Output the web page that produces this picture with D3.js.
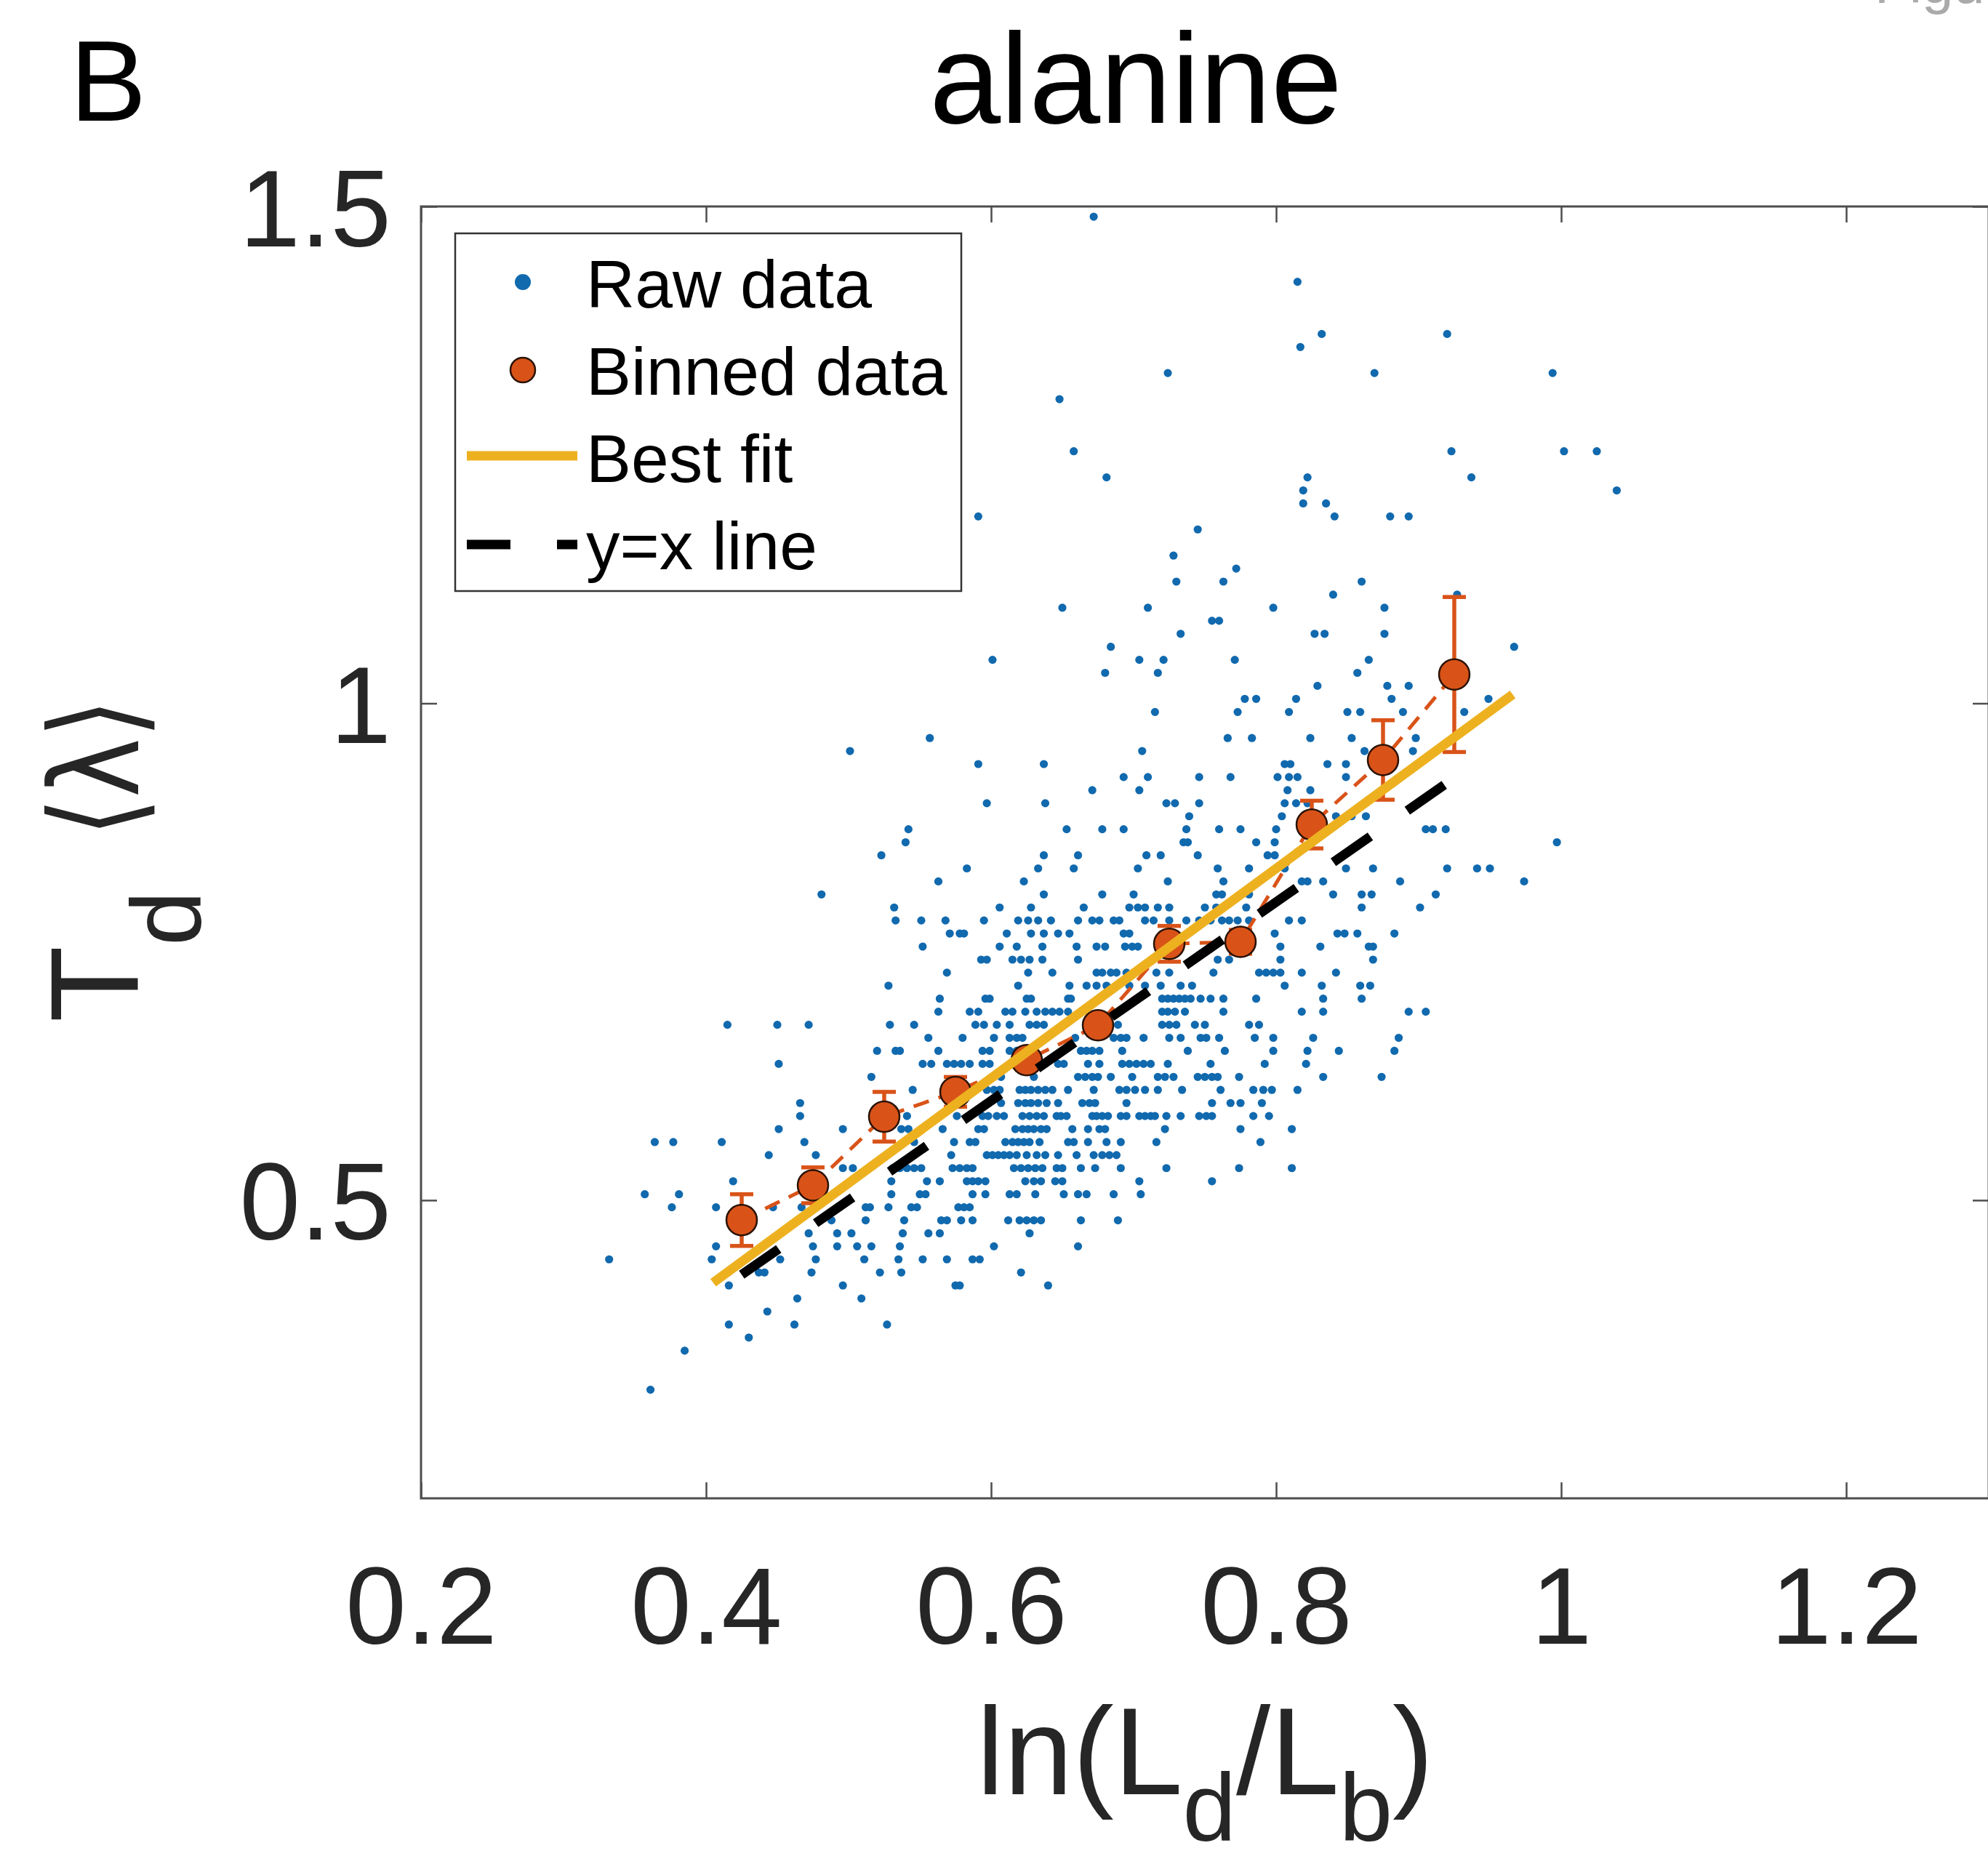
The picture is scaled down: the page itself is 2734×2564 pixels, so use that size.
<!DOCTYPE html>
<html>
<head>
<meta charset="UTF-8">
<title>alanine</title>
<style>
  body { margin: 0; background: #fff; }
  svg { display: block; }
</style>
<script src="https://d3js.org/d3.v7.min.js"></script>
</head>
<body>
<div id="chart"></div>
<script>
// ---- data ----
const xTicks = [0.2, 0.4, 0.6, 0.8, 1, 1.2];
const yTicks = [0.5, 1, 1.5];

// raw data: T_d<lambda> is quantised, so points sit on rows; one y per row, x values in that row
const rowY = [1.4897, 1.4242, 1.3717, 1.3586, 1.3324, 1.3061, 1.2537, 1.2274, 1.2143, 1.2012,
  1.1881, 1.1750, 1.1487, 1.1356, 1.1225, 1.1094, 1.0962, 1.0831, 1.0700, 1.0569,
  1.0438, 1.0307, 1.0176, 1.0045, 0.9913, 0.9651, 0.9520, 0.9389, 0.9258, 0.9126,
  0.8995, 0.8864, 0.8733, 0.8602, 0.8471, 0.8339, 0.8208, 0.8077, 0.7946, 0.7815,
  0.7684, 0.7552, 0.7421, 0.7290, 0.7159, 0.7028, 0.6897, 0.6765, 0.6634, 0.6503,
  0.6372, 0.6241, 0.6110, 0.5978, 0.5847, 0.5716, 0.5585, 0.5454, 0.5323, 0.5191,
  0.5060, 0.4929, 0.4798, 0.4667, 0.4536, 0.4405, 0.4273, 0.4142, 0.4011, 0.3880,
  0.3749, 0.3618, 0.3486, 0.3093];

const rowX = [
  [0.672],
  [0.815],
  [0.832, 0.920],
  [0.817],
  [0.724, 0.869, 0.994],
  [0.648],
  [0.658, 0.923, 1.002, 1.025],
  [0.681, 0.822, 0.937],
  [0.819, 1.039],
  [0.819, 0.835],
  [0.591, 0.841, 0.880, 0.893],
  [0.745],
  [0.728],
  [0.772],
  [0.730, 0.763, 0.860],
  [0.840, 0.927],
  [0.650, 0.710, 0.798, 0.876],
  [0.755, 0.760],
  [0.733, 0.827, 0.834, 0.876],
  [0.684, 0.967],
  [0.601, 0.704, 0.721, 0.771, 0.865],
  [0.680, 0.717, 0.857],
  [0.829, 0.878, 0.893],
  [0.778, 0.786, 0.814, 0.881, 0.949],
  [0.715, 0.773, 0.809, 0.850, 0.859, 0.889, 0.932],
  [0.557, 0.766, 0.783, 0.824, 0.853, 0.898],
  [0.501, 0.706, 0.862, 0.896],
  [0.591, 0.637, 0.806, 0.810, 0.836, 0.849],
  [0.693, 0.710, 0.746, 0.768, 0.801, 0.809, 0.815, 0.849],
  [0.671, 0.704, 0.808, 0.824],
  [0.597, 0.638, 0.723, 0.729, 0.746, 0.806, 0.814, 0.822],
  [0.739, 0.804, 0.842, 0.853, 0.863],
  [0.542, 0.653, 0.678, 0.693, 0.737, 0.760, 0.775, 0.800, 0.905, 0.910, 0.919],
  [0.540, 0.735, 0.738, 0.786, 0.799, 0.997],
  [0.523, 0.637, 0.661, 0.709, 0.719, 0.745, 0.794, 0.799],
  [0.583, 0.633, 0.658, 0.703, 0.759, 0.781, 0.806, 0.849, 0.868, 0.920, 0.941, 0.950],
  [0.563, 0.623, 0.724, 0.763, 0.818, 0.822, 0.833, 0.887, 0.974],
  [0.481, 0.637, 0.678, 0.700, 0.758, 0.762, 0.775, 0.781, 0.840, 0.860, 0.867, 0.912],
  [0.532, 0.606, 0.628, 0.665, 0.697, 0.703, 0.708, 0.717, 0.725, 0.750, 0.758, 0.779, 0.860, 0.901],
  [0.533, 0.551, 0.568, 0.595, 0.619, 0.626, 0.633, 0.642, 0.661, 0.671, 0.676, 0.686, 0.690, 0.708, 0.714, 0.725, 0.737, 0.746, 0.754, 0.762, 0.767, 0.773, 0.781, 0.809, 0.818],
  [0.571, 0.578, 0.581, 0.611, 0.628, 0.637, 0.647, 0.655, 0.693, 0.697, 0.799, 0.843, 0.848, 0.857, 0.883],
  [0.552, 0.606, 0.618, 0.636, 0.660, 0.674, 0.680, 0.694, 0.699, 0.703, 0.803, 0.831, 0.865, 0.868],
  [0.593, 0.597, 0.615, 0.621, 0.627, 0.636, 0.661, 0.759, 0.767, 0.803, 0.868],
  [0.569, 0.626, 0.643, 0.674, 0.678, 0.684, 0.688, 0.695, 0.716, 0.725, 0.756, 0.788, 0.793, 0.798, 0.803, 0.818, 0.842],
  [0.528, 0.619, 0.655, 0.667, 0.674, 0.681, 0.697, 0.708, 0.719, 0.733, 0.741, 0.806, 0.832, 0.859, 0.866],
  [0.564, 0.596, 0.599, 0.625, 0.628, 0.654, 0.656, 0.720, 0.724, 0.728, 0.732, 0.736, 0.740, 0.747, 0.754, 0.763, 0.786, 0.833, 0.860],
  [0.563, 0.585, 0.591, 0.610, 0.615, 0.624, 0.632, 0.638, 0.643, 0.648, 0.654, 0.720, 0.724, 0.729, 0.736, 0.763, 0.818, 0.833, 0.893, 0.905],
  [0.415, 0.450, 0.472, 0.529, 0.546, 0.589, 0.595, 0.604, 0.613, 0.627, 0.632, 0.637, 0.689, 0.720, 0.725, 0.730, 0.743, 0.750, 0.781, 0.788],
  [0.556, 0.580, 0.602, 0.613, 0.618, 0.622, 0.659, 0.686, 0.691, 0.695, 0.707, 0.725, 0.733, 0.747, 0.751, 0.760, 0.785, 0.798, 0.826, 0.886],
  [0.520, 0.533, 0.536, 0.563, 0.594, 0.599, 0.613, 0.618, 0.663, 0.667, 0.671, 0.676, 0.692, 0.738, 0.764, 0.798, 0.822, 0.844, 0.883],
  [0.451, 0.552, 0.558, 0.569, 0.574, 0.579, 0.585, 0.594, 0.599, 0.647, 0.651, 0.668, 0.676, 0.692, 0.697, 0.702, 0.707, 0.712, 0.724, 0.754, 0.792, 0.821],
  [0.516, 0.607, 0.630, 0.661, 0.666, 0.671, 0.675, 0.684, 0.699, 0.717, 0.722, 0.728, 0.745, 0.750, 0.755, 0.759, 0.774, 0.833, 0.874],
  [0.545, 0.597, 0.602, 0.606, 0.620, 0.624, 0.628, 0.633, 0.638, 0.643, 0.654, 0.672, 0.690, 0.695, 0.701, 0.708, 0.717, 0.734, 0.761, 0.784, 0.791, 0.797, 0.815],
  [0.466, 0.607, 0.619, 0.624, 0.628, 0.633, 0.639, 0.647, 0.664, 0.669, 0.673, 0.695, 0.755, 0.768, 0.775, 0.790],
  [0.466, 0.541, 0.576, 0.594, 0.598, 0.604, 0.609, 0.622, 0.627, 0.632, 0.637, 0.646, 0.649, 0.653, 0.671, 0.674, 0.678, 0.682, 0.691, 0.695, 0.704, 0.708, 0.712, 0.715, 0.723, 0.733, 0.746, 0.751, 0.755, 0.784, 0.795],
  [0.451, 0.496, 0.537, 0.542, 0.566, 0.591, 0.595, 0.617, 0.622, 0.626, 0.630, 0.635, 0.639, 0.657, 0.668, 0.676, 0.680, 0.722, 0.775, 0.811],
  [0.364, 0.377, 0.411, 0.469, 0.546, 0.574, 0.585, 0.589, 0.610, 0.615, 0.619, 0.623, 0.627, 0.634, 0.654, 0.658, 0.668, 0.681, 0.691, 0.716, 0.789],
  [0.444, 0.477, 0.572, 0.597, 0.601, 0.605, 0.609, 0.613, 0.618, 0.625, 0.632, 0.638, 0.647, 0.660, 0.672, 0.678, 0.683, 0.688],
  [0.496, 0.503, 0.531, 0.536, 0.541, 0.546, 0.551, 0.573, 0.578, 0.583, 0.587, 0.616, 0.621, 0.626, 0.631, 0.636, 0.646, 0.650, 0.663, 0.673, 0.691, 0.723, 0.774, 0.811],
  [0.419, 0.530, 0.555, 0.564, 0.583, 0.587, 0.591, 0.596, 0.624, 0.630, 0.635, 0.645, 0.650, 0.704, 0.755],
  [0.357, 0.381, 0.530, 0.550, 0.554, 0.587, 0.596, 0.613, 0.618, 0.631, 0.651, 0.661, 0.667, 0.686, 0.705],
  [0.376, 0.407, 0.447, 0.467, 0.512, 0.515, 0.528, 0.544, 0.548, 0.577, 0.581, 0.585],
  [0.488, 0.512, 0.539, 0.565, 0.569, 0.579, 0.587, 0.612, 0.620, 0.625, 0.630, 0.635, 0.663, 0.689],
  [0.472, 0.492, 0.502, 0.538, 0.556, 0.564, 0.627],
  [0.407, 0.475, 0.492, 0.506, 0.516, 0.536, 0.602, 0.661],
  [0.332, 0.404, 0.452, 0.477, 0.511, 0.535, 0.552, 0.569, 0.587, 0.592],
  [0.437, 0.441, 0.474, 0.522, 0.537, 0.621],
  [0.416, 0.496, 0.575, 0.578, 0.640],
  [0.464, 0.509],
  [0.443],
  [0.416, 0.462, 0.527],
  [0.430],
  [0.385],
  [0.361]
];

// binned means with error bars
const binX = [0.425, 0.475, 0.525, 0.575, 0.625, 0.675, 0.725, 0.775, 0.825, 0.875, 0.925];
const binY = [0.480, 0.515, 0.584, 0.609, 0.641, 0.676, 0.758, 0.760, 0.878, 0.943, 1.029];
const binErr = [0.026, 0.018, 0.025, 0.015, 0.010, 0.010, 0.018, 0.012, 0.024, 0.040, 0.078];

// best fit segment and y=x segment
const fitX = [0.405, 0.966];
const fitY = [0.417, 1.009];
const unitX = [0.425, 0.925];

const legendLabels = ["Raw data", "Binned data", "Best fit", "y=x line"];

// ---- drawing ----
const W = 2734, H = 2564;
const FONT = "'Liberation Sans', Arial, Helvetica, sans-serif";
const BLUE = "#1169ae", ORANGE = "#d95319", YELLOW = "#edb120";
const AXIS = "#4d4d4d", TICKTXT = "#262626";

const x = d3.scaleLinear().domain([0.2, 1.3]).range([579, 2735]);
const y = d3.scaleLinear().domain([0.2, 1.5]).range([2061, 284]);

const svg = d3.select("#chart").append("svg")
    .attr("width", W).attr("height", H)
    .attr("font-family", FONT);

svg.append("rect").attr("width", W).attr("height", H).attr("fill", "#fff");

// raw points
const raw = rowX.flatMap((xs, i) => xs.map(v => [v, rowY[i]]));
svg.append("g")
    .selectAll("circle")
    .data(raw)
    .join("circle")
    .attr("cx", d => x(d[0]))
    .attr("cy", d => y(d[1]))
    .attr("r", 5.6)
    .attr("fill", BLUE);

// binned: dashed connecting line, error bars, markers
const bins = binX.map((v, i) => [v, binY[i], binErr[i]]);
svg.append("path")
    .attr("d", d3.line().x(d => x(d[0])).y(d => y(d[1]))(bins))
    .attr("fill", "none")
    .attr("stroke", ORANGE)
    .attr("stroke-width", 5)
    .attr("stroke-dasharray", "22 14");

const eb = svg.append("g").attr("stroke", ORANGE).attr("stroke-width", 5.5);
bins.forEach(d => {
    const cx = x(d[0]), y0 = y(d[1] - d[2]), y1 = y(d[1] + d[2]);
    eb.append("line").attr("x1", cx).attr("x2", cx).attr("y1", y0).attr("y2", y1);
    eb.append("line").attr("x1", cx - 16).attr("x2", cx + 16).attr("y1", y0).attr("y2", y0);
    eb.append("line").attr("x1", cx - 16).attr("x2", cx + 16).attr("y1", y1).attr("y2", y1);
});

svg.append("g")
    .selectAll("circle")
    .data(bins)
    .join("circle")
    .attr("cx", d => x(d[0]))
    .attr("cy", d => y(d[1]))
    .attr("r", 21)
    .attr("fill", ORANGE)
    .attr("stroke", "#2a1204")
    .attr("stroke-width", 2.5);

// best fit
svg.append("path")
    .attr("d", d3.line().x(d => x(d[0])).y(d => y(d[1]))(fitX.map((v, i) => [v, fitY[i]])))
    .attr("fill", "none")
    .attr("stroke", YELLOW)
    .attr("stroke-width", 13);

// y = x
svg.append("path")
    .attr("d", d3.line().x(d => x(d)).y(d => y(d))(unitX))
    .attr("fill", "none")
    .attr("stroke", "#000")
    .attr("stroke-width", 13)
    .attr("stroke-dasharray", "62 62");

// axes (ticks inside, box)
function styleAxis(g) {
    g.attr("font-size", 150).attr("font-family", FONT);
    g.select(".domain").remove();
    g.selectAll(".tick line").attr("stroke", AXIS).attr("stroke-width", 2.5);
    g.selectAll(".tick text").attr("fill", TICKTXT);
}

svg.append("g")
    .attr("transform", `translate(0,${y(0.2)})`)
    .call(d3.axisBottom(x).tickValues(xTicks).tickSize(-22).tickFormat(d3.format("")))
    .call(styleAxis)
    .call(g => g.selectAll(".tick text").attr("y", 200).attr("dy", null));

svg.append("g")
    .attr("transform", `translate(0,${y(1.5)})`)
    .call(d3.axisTop(x).tickValues(xTicks).tickSize(-22).tickFormat(""))
    .call(styleAxis);

svg.append("g")
    .attr("transform", `translate(${x(0.2)},0)`)
    .call(d3.axisLeft(y).tickValues(yTicks).tickSize(-22).tickFormat(d3.format("")))
    .call(styleAxis)
    .call(g => g.selectAll(".tick text").attr("x", -41).attr("dy", "0.36em"));

svg.append("g")
    .attr("transform", `translate(${x(1.3)},0)`)
    .call(d3.axisRight(y).tickValues(yTicks).tickSize(-22).tickFormat(""))
    .call(styleAxis);

svg.append("rect")
    .attr("x", x(0.2)).attr("y", y(1.5))
    .attr("width", x(1.3) - x(0.2)).attr("height", y(0.2) - y(1.5))
    .attr("fill", "none").attr("stroke", AXIS).attr("stroke-width", 3);

// legend
const lg = svg.append("g");
lg.append("rect")
    .attr("x", 626).attr("y", 321).attr("width", 696).attr("height", 492)
    .attr("fill", "#fff").attr("stroke", "#333").attr("stroke-width", 2.5);
lg.append("circle").attr("cx", 719).attr("cy", 388).attr("r", 11).attr("fill", BLUE);
lg.append("circle").attr("cx", 719).attr("cy", 509).attr("r", 17)
    .attr("fill", ORANGE).attr("stroke", "#2a1204").attr("stroke-width", 2.5);
lg.append("line").attr("x1", 642).attr("x2", 794).attr("y1", 627).attr("y2", 627)
    .attr("stroke", YELLOW).attr("stroke-width", 13);
lg.append("line").attr("x1", 642).attr("x2", 794).attr("y1", 749).attr("y2", 749)
    .attr("stroke", "#000").attr("stroke-width", 13).attr("stroke-dasharray", "60 64");
legendLabels.forEach((t, i) => {
    lg.append("text")
        .attr("x", 806).attr("y", 423 + i * 120)
        .attr("font-size", 93).attr("fill", "#000")
        .text(t);
});

// title and panel letter
svg.append("text")
    .attr("x", 1562).attr("y", 169)
    .attr("text-anchor", "middle")
    .attr("font-size", 176).attr("fill", "#000")
    .text("alanine");

svg.append("text")
    .attr("x", 96).attr("y", 166)
    .attr("font-size", 158).attr("fill", "#000")
    .text("B");

// faint caption cut at the top edge, as in the source figure
svg.append("text")
    .attr("x", 2578).attr("y", 4)
    .attr("font-size", 78).attr("fill", "#aaa")
    .text("Figure");

// x label ln(L_d/L_b)
const xl = svg.append("text")
    .attr("x", 1343).attr("y", 2468)
    .attr("font-size", 170).attr("fill", TICKTXT);
xl.append("tspan").text("ln(L");
xl.append("tspan").attr("dy", 64).attr("font-size", 132).text("d");
xl.append("tspan").attr("dy", -64).text("/L");
xl.append("tspan").attr("dy", 64).attr("font-size", 132).text("b");
xl.append("tspan").attr("dy", -64).text(")");

// y label T_d <lambda>
const yl = svg.append("text")
    .attr("transform", "translate(190,1406) rotate(-90)")
    .attr("font-size", 172).attr("fill", TICKTXT);
yl.append("tspan").text("T");
yl.append("tspan").attr("dy", 85).attr("font-size", 136).text("d");
yl.append("tspan").attr("x", 255).attr("dy", -85)
    .attr("font-family", "'DejaVu Sans', sans-serif").attr("font-size", 170)
    .attr("textLength", 190).attr("lengthAdjust", "spacingAndGlyphs")
    .text("⟨λ⟩");
</script>
</body>
</html>
